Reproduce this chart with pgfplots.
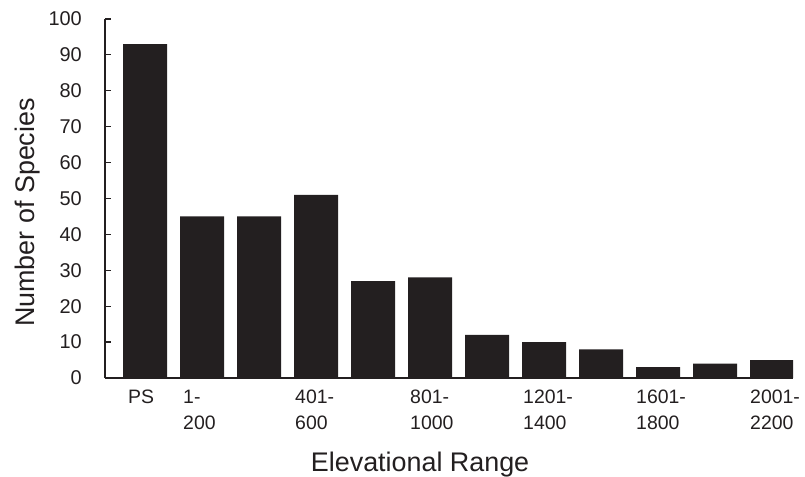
\documentclass[border=0pt]{standalone}
\usepackage{fontspec}
\setmainfont{Liberation Sans}
\usepackage{pgfplots}
\pgfplotsset{compat=1.18}
\definecolor{barc}{HTML}{231F20}
\begin{document}
\begin{tikzpicture}
\useasboundingbox (0,0) rectangle (805bp,477bp);
\begin{axis}[
  at={(105bp,99bp)}, anchor=south west,
  scale only axis, width=688bp, height=359bp,
  xmin=-0.702, xmax=11.368, ymin=0, ymax=100,
  axis lines=left,
  axis line style={-, draw=barc, line width=1.3bp},
  ytick={0,10,...,100},
  tick align=inside, major tick length=6bp,
  tick style={draw=barc, line width=1.2bp},
  xtick={-0.298,0.667,2.632,4.649,6.632,8.614,10.614},
  xticklabels={PS,{1-\\200},{401-\\600},{801-\\1000},{1201-\\1400},{1601-\\1800},{2001-\\2200}},
  x tick style={draw=none},
  xticklabel style={anchor=north west, inner sep=0pt, align=left, font=\fontsize{19.5}{26}\selectfont, yshift=-12bp, text=barc},
  yticklabel style={anchor=east, inner sep=0pt, xshift=-23bp, font=\fontsize{20}{24}\selectfont, text=barc},
  /pgf/number format/assume math mode=true,
  xlabel={Elevational Range},
  ylabel={Number of Species},
  xlabel style={at={(axis description cs:0.458,0)}, anchor=north, inner sep=0pt, yshift=-74bp, font=\fontsize{27}{30}\selectfont, text=barc},
  ylabel style={at={(axis description cs:0,0.461)}, rotate=0, anchor=north, inner sep=0pt, yshift=90bp, font=\fontsize{27}{30}\selectfont, text=barc},
]
\addplot[ybar, bar width=44bp, fill=barc, draw=none] coordinates {
  (0,93) (1,45) (2,45) (3,51) (4,27) (5,28) (6,12) (7,10) (8,8) (9,3) (10,4) (11,5)
};
\end{axis}
\end{tikzpicture}
\end{document}
